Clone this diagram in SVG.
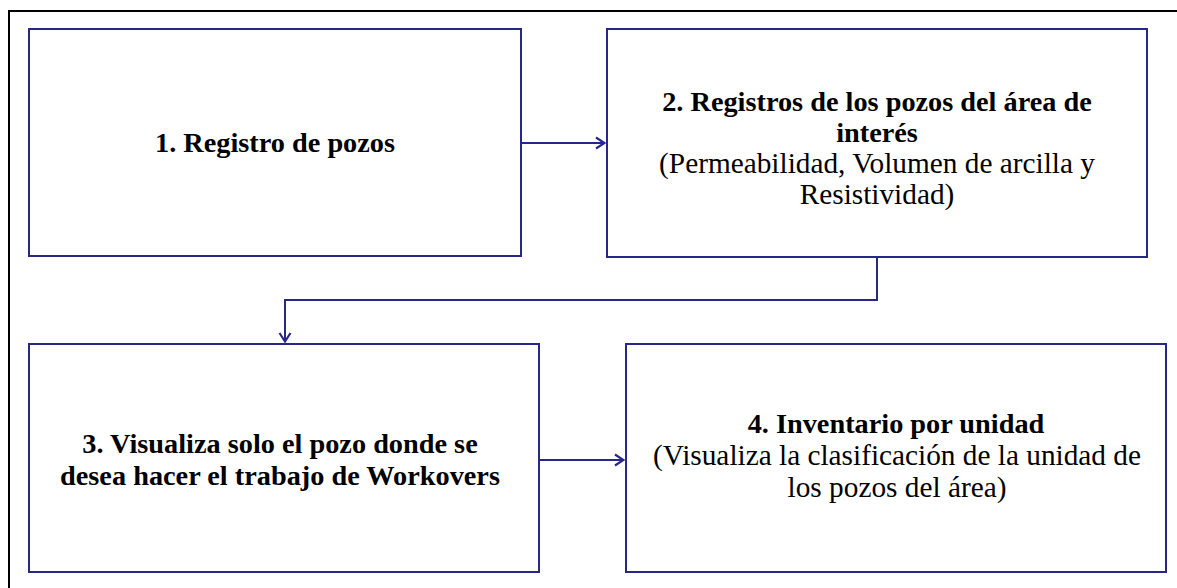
<svg xmlns="http://www.w3.org/2000/svg" width="1177" height="588" viewBox="0 0 1177 588">
  <style>
    .box { fill: #ffffff; stroke: #27278a; stroke-width: 2; }
    .link { fill: none; stroke: #27278a; stroke-width: 2; }
    .frame { fill: none; stroke: #000000; stroke-width: 2; }
    text { font-family: "Liberation Serif", "Times New Roman", serif; font-size: 29.3px; fill: #000000; text-anchor: middle; }
    .b { font-weight: bold; font-size: 28.3px; }
  </style>
  <defs>
    <marker id="chev" viewBox="0 0 12 14" refX="11" refY="7" markerWidth="12" markerHeight="14" markerUnits="userSpaceOnUse" orient="auto">
      <polyline points="2,1.5 10.5,7 2,12.5" fill="none" stroke="#27278a" stroke-width="2.2"/>
    </marker>
  </defs>

  <rect width="1177" height="588" fill="#ffffff"/>
  <!-- page frame (top and left edges) -->
  <path class="frame" d="M9,588 V11 H1177"/>

  <g id="node1">
    <rect class="box" x="29" y="29" width="492" height="227"/>
    <text class="b" x="275" y="152">1. Registro de pozos</text>
  </g>

  <g id="node2">
    <rect class="box" x="607" y="29" width="540" height="228"/>
    <text class="b" x="877" y="111">2. Registros de los pozos del área de</text>
    <text class="b" x="877" y="142">interés</text>
    <text x="877" y="173">(Permeabilidad, Volumen de arcilla y</text>
    <text x="877" y="204">Resistividad)</text>
  </g>

  <g id="node3">
    <rect class="box" x="29" y="344" width="510" height="228"/>
    <text class="b" x="280" y="453">3. Visualiza solo el pozo donde se</text>
    <text class="b" x="280" y="485">desea hacer el trabajo de Workovers</text>
  </g>

  <g id="node4">
    <rect class="box" x="626" y="344" width="540" height="228"/>
    <text class="b" x="896" y="433">4. Inventario por unidad</text>
    <text x="897" y="465">(Visualiza la clasificación de la unidad de</text>
    <text x="897" y="497">los pozos del área)</text>
  </g>

  <g id="connectors">
    <path class="link" d="M521,143 H605" marker-end="url(#chev)"/>
    <path class="link" d="M877,257 V300 H285 V342" marker-end="url(#chev)"/>
    <path class="link" d="M539,460 H624" marker-end="url(#chev)"/>
  </g>
</svg>
